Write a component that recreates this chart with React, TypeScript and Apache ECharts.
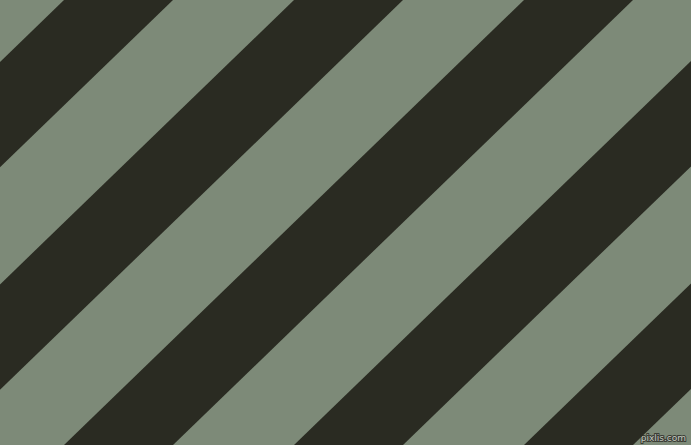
import { useEffect, useRef } from "react";
import * as echarts from "echarts";

const WIDTH = 691;
const HEIGHT = 445;

// x where each dark stripe's edges meet the top border (y = 0)
const stripeStart = [64, 294, 524, 754, 984];
const stripeEnd = [173, 403, 633, 863, 1093];
// horizontal drift of a stripe edge from top to bottom (~44° lean)
const SKEW = 460;

const BG = "#7d8a78";
const DARK = "#2a2b22";

export default function App() {
  const chartRef = useRef<HTMLDivElement>(null);

  useEffect(() => {
    document.body.style.margin = "0";
    if (!chartRef.current) return;
    const chart = echarts.init(chartRef.current, null, { renderer: "svg" });

    const data = stripeStart.map((s, i) => [s, stripeEnd[i]]);

    chart.setOption({
      animation: false,
      backgroundColor: BG,
      grid: { left: 0, right: 0, top: 0, bottom: 0 },
      xAxis: { type: "value", min: 0, max: WIDTH, show: false },
      yAxis: { type: "value", min: 0, max: HEIGHT, inverse: true, show: false },
      series: [
        {
          type: "custom",
          clip: true,
          data,
          renderItem: (params: any, api: any) => {
            const s = api.value(0);
            const e = api.value(1);
            const pts = [
              api.coord([s, 0]),
              api.coord([e, 0]),
              api.coord([e - SKEW, HEIGHT]),
              api.coord([s - SKEW, HEIGHT]),
            ];
            return {
              type: "polygon",
              shape: { points: pts },
              style: { fill: DARK },
            };
          },
        },
      ],
      graphic: [
        {
          type: "text",
          right: 4,
          bottom: 2,
          style: {
            text: "pixlis.com",
            fill: "#c4cbc1",
            stroke: "#3b3d35",
            lineWidth: 2,
            font: "9px 'DejaVu Sans'",
          },
        },
      ],
    });

    return () => chart.dispose();
  }, []);

  return <div ref={chartRef} style={{ width: WIDTH, height: HEIGHT }} />;
}
